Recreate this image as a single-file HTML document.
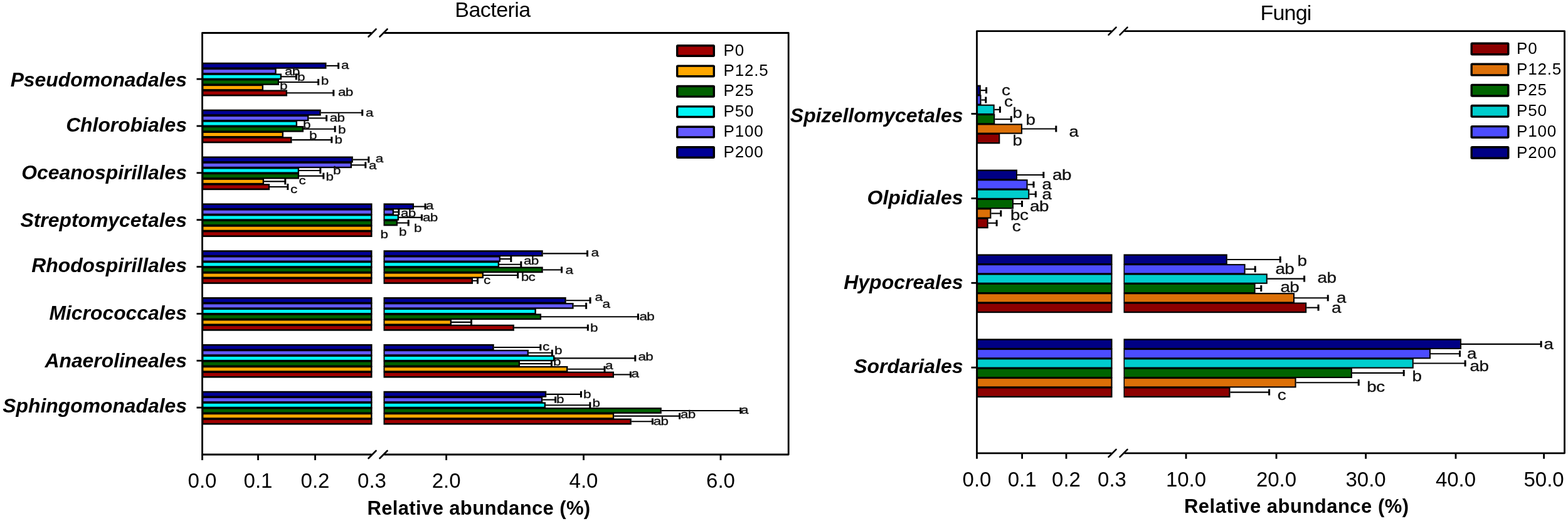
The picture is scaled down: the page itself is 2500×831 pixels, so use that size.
<!DOCTYPE html>
<html><head><meta charset="utf-8"><title>Relative abundance - Bacteria and Fungi</title>
<style>html,body{margin:0;padding:0;background:#fff;}svg{display:block;}text{font-family:'Liberation Sans', Arial, Helvetica, sans-serif;}</style></head><body>
<svg width="2500" height="831" viewBox="0 0 2500 831">
<rect x="0" y="0" width="2500" height="831" fill="#fff"/>
<text x="785.5" y="27" font-size="34" text-anchor="middle" letter-spacing="-0.55" fill="#000">Bacteria</text>
<text x="2050" y="32" font-size="34" text-anchor="middle" letter-spacing="-0.8" fill="#000">Fungi</text>
<rect x="322.5" y="99.76" width="198.00" height="9.98" fill="#000"/>
<rect x="324.4" y="102.41" width="193.75" height="4.98" fill="#000096"/>
<rect x="322.5" y="108.74" width="118.20" height="9.68" fill="#000"/>
<rect x="324.4" y="111.09" width="113.94" height="4.98" fill="#645AFF"/>
<rect x="322.5" y="117.42" width="126.50" height="9.68" fill="#000"/>
<rect x="324.4" y="119.77" width="122.25" height="4.98" fill="#00F5F5"/>
<rect x="322.5" y="126.10" width="122.50" height="9.68" fill="#000"/>
<rect x="324.4" y="128.45" width="118.25" height="4.98" fill="#006000"/>
<rect x="322.5" y="134.78" width="97.50" height="9.68" fill="#000"/>
<rect x="324.4" y="137.13" width="93.25" height="4.98" fill="#FFA800"/>
<rect x="322.5" y="143.46" width="135.50" height="9.98" fill="#000"/>
<rect x="324.4" y="145.81" width="131.25" height="4.98" fill="#A00000"/>
<line x1="520.5" y1="104.90" x2="540.8" y2="104.90" stroke="#000" stroke-width="2.1"/>
<line x1="539.6" y1="99.90" x2="539.6" y2="109.90" stroke="#000" stroke-width="3"/>
<line x1="449.0" y1="122.26" x2="473.5" y2="122.26" stroke="#000" stroke-width="2.1"/>
<line x1="472.3" y1="117.26" x2="472.3" y2="127.26" stroke="#000" stroke-width="3"/>
<line x1="445.0" y1="130.94" x2="508.8" y2="130.94" stroke="#000" stroke-width="2.1"/>
<line x1="507.6" y1="125.94" x2="507.6" y2="135.94" stroke="#000" stroke-width="3"/>
<line x1="458.0" y1="148.30" x2="533.0" y2="148.30" stroke="#000" stroke-width="2.1"/>
<line x1="531.8" y1="143.30" x2="531.8" y2="153.30" stroke="#000" stroke-width="3"/>
<text transform="translate(544.0,110.3) scale(1.18,1)" font-size="19" letter-spacing="-0.6" fill="#111" stroke="#111" stroke-width="0.35">a</text>
<text transform="translate(454.0,120.0) scale(1.18,1)" font-size="19" letter-spacing="-0.6" fill="#111" stroke="#111" stroke-width="0.35">ab</text>
<text transform="translate(474.0,129.4) scale(1.18,1)" font-size="19" letter-spacing="-0.6" fill="#111" stroke="#111" stroke-width="0.35">b</text>
<text transform="translate(511.7,135.0) scale(1.18,1)" font-size="19" letter-spacing="-0.6" fill="#111" stroke="#111" stroke-width="0.35">b</text>
<text transform="translate(446.0,142.7) scale(1.18,1)" font-size="19" letter-spacing="-0.6" fill="#111" stroke="#111" stroke-width="0.35">b</text>
<text transform="translate(539.0,152.9) scale(1.18,1)" font-size="19" letter-spacing="-0.6" fill="#111" stroke="#111" stroke-width="0.35">ab</text>
<line x1="313.5" y1="126.1" x2="322.5" y2="126.1" stroke="#000" stroke-width="2.8"/>
<rect x="322.5" y="174.62" width="189.20" height="9.98" fill="#000"/>
<rect x="324.4" y="177.27" width="184.94" height="4.98" fill="#000096"/>
<rect x="322.5" y="183.60" width="169.90" height="9.68" fill="#000"/>
<rect x="324.4" y="185.95" width="165.64" height="4.98" fill="#645AFF"/>
<rect x="322.5" y="192.28" width="151.50" height="9.68" fill="#000"/>
<rect x="324.4" y="194.63" width="147.25" height="4.98" fill="#00F5F5"/>
<rect x="322.5" y="200.96" width="161.50" height="9.68" fill="#000"/>
<rect x="324.4" y="203.31" width="157.25" height="4.98" fill="#006000"/>
<rect x="322.5" y="209.64" width="129.50" height="9.68" fill="#000"/>
<rect x="324.4" y="211.99" width="125.25" height="4.98" fill="#FFA800"/>
<rect x="322.5" y="218.32" width="143.00" height="9.98" fill="#000"/>
<rect x="324.4" y="220.67" width="138.75" height="4.98" fill="#A00000"/>
<line x1="511.7" y1="179.76" x2="578.9" y2="179.76" stroke="#000" stroke-width="2.1"/>
<line x1="577.7" y1="174.76" x2="577.7" y2="184.76" stroke="#000" stroke-width="3"/>
<line x1="492.4" y1="188.44" x2="521.8" y2="188.44" stroke="#000" stroke-width="2.1"/>
<line x1="520.6" y1="183.44" x2="520.6" y2="193.44" stroke="#000" stroke-width="3"/>
<line x1="484.0" y1="205.80" x2="535.3" y2="205.80" stroke="#000" stroke-width="2.1"/>
<line x1="534.1" y1="200.80" x2="534.1" y2="210.80" stroke="#000" stroke-width="3"/>
<line x1="465.5" y1="223.16" x2="530.0" y2="223.16" stroke="#000" stroke-width="2.1"/>
<line x1="528.8" y1="218.16" x2="528.8" y2="228.16" stroke="#000" stroke-width="3"/>
<text transform="translate(583.0,185.6) scale(1.18,1)" font-size="19" letter-spacing="-0.6" fill="#111" stroke="#111" stroke-width="0.35">a</text>
<text transform="translate(525.8,194.0) scale(1.18,1)" font-size="19" letter-spacing="-0.6" fill="#111" stroke="#111" stroke-width="0.35">ab</text>
<text transform="translate(483.0,205.0) scale(1.18,1)" font-size="19" letter-spacing="-0.6" fill="#111" stroke="#111" stroke-width="0.35">b</text>
<text transform="translate(539.0,212.5) scale(1.18,1)" font-size="19" letter-spacing="-0.6" fill="#111" stroke="#111" stroke-width="0.35">b</text>
<text transform="translate(493.0,221.8) scale(1.18,1)" font-size="19" letter-spacing="-0.6" fill="#111" stroke="#111" stroke-width="0.35">b</text>
<text transform="translate(533.4,228.5) scale(1.18,1)" font-size="19" letter-spacing="-0.6" fill="#111" stroke="#111" stroke-width="0.35">b</text>
<line x1="313.5" y1="201.0" x2="322.5" y2="201.0" stroke="#000" stroke-width="2.8"/>
<rect x="322.5" y="249.48" width="240.30" height="9.98" fill="#000"/>
<rect x="324.4" y="252.13" width="236.04" height="4.98" fill="#000096"/>
<rect x="322.5" y="258.46" width="238.50" height="9.68" fill="#000"/>
<rect x="324.4" y="260.81" width="234.25" height="4.98" fill="#645AFF"/>
<rect x="322.5" y="267.14" width="154.50" height="9.68" fill="#000"/>
<rect x="324.4" y="269.49" width="150.25" height="4.98" fill="#00F5F5"/>
<rect x="322.5" y="275.82" width="154.50" height="9.68" fill="#000"/>
<rect x="324.4" y="278.17" width="150.25" height="4.98" fill="#006000"/>
<rect x="322.5" y="284.50" width="98.50" height="9.68" fill="#000"/>
<rect x="324.4" y="286.85" width="94.25" height="4.98" fill="#FFA800"/>
<rect x="322.5" y="293.18" width="107.50" height="9.98" fill="#000"/>
<rect x="324.4" y="295.53" width="103.25" height="4.98" fill="#A00000"/>
<line x1="562.8" y1="254.62" x2="589.0" y2="254.62" stroke="#000" stroke-width="2.1"/>
<line x1="587.8" y1="249.62" x2="587.8" y2="259.62" stroke="#000" stroke-width="3"/>
<line x1="561.0" y1="263.30" x2="584.0" y2="263.30" stroke="#000" stroke-width="2.1"/>
<line x1="582.8" y1="258.30" x2="582.8" y2="268.30" stroke="#000" stroke-width="3"/>
<line x1="477.0" y1="271.98" x2="512.0" y2="271.98" stroke="#000" stroke-width="2.1"/>
<line x1="510.8" y1="266.98" x2="510.8" y2="276.98" stroke="#000" stroke-width="3"/>
<line x1="477.0" y1="280.66" x2="517.0" y2="280.66" stroke="#000" stroke-width="2.1"/>
<line x1="515.8" y1="275.66" x2="515.8" y2="285.66" stroke="#000" stroke-width="3"/>
<line x1="421.0" y1="289.34" x2="456.0" y2="289.34" stroke="#000" stroke-width="2.1"/>
<line x1="454.8" y1="284.34" x2="454.8" y2="294.34" stroke="#000" stroke-width="3"/>
<line x1="430.0" y1="298.02" x2="460.0" y2="298.02" stroke="#000" stroke-width="2.1"/>
<line x1="458.8" y1="293.02" x2="458.8" y2="303.02" stroke="#000" stroke-width="3"/>
<text transform="translate(598.8,258.5) scale(1.18,1)" font-size="19" letter-spacing="-0.6" fill="#111" stroke="#111" stroke-width="0.35">a</text>
<text transform="translate(588.0,270.0) scale(1.18,1)" font-size="19" letter-spacing="-0.6" fill="#111" stroke="#111" stroke-width="0.35">a</text>
<text transform="translate(531.0,278.0) scale(1.18,1)" font-size="19" letter-spacing="-0.6" fill="#111" stroke="#111" stroke-width="0.35">b</text>
<text transform="translate(519.6,288.4) scale(1.18,1)" font-size="19" letter-spacing="-0.6" fill="#111" stroke="#111" stroke-width="0.35">b</text>
<text transform="translate(476.5,293.7) scale(1.18,1)" font-size="19" letter-spacing="-0.6" fill="#111" stroke="#111" stroke-width="0.35">c</text>
<text transform="translate(463.0,307.8) scale(1.18,1)" font-size="19" letter-spacing="-0.6" fill="#111" stroke="#111" stroke-width="0.35">c</text>
<line x1="313.5" y1="275.8" x2="322.5" y2="275.8" stroke="#000" stroke-width="2.8"/>
<rect x="322.5" y="324.34" width="271.00" height="9.98" fill="#000"/>
<rect x="324.4" y="326.99" width="266.75" height="4.98" fill="#000096"/>
<rect x="611.5" y="324.34" width="48.50" height="9.98" fill="#000"/>
<rect x="613.4" y="326.99" width="44.24" height="4.98" fill="#000096"/>
<rect x="322.5" y="333.32" width="271.00" height="9.68" fill="#000"/>
<rect x="324.4" y="335.67" width="266.75" height="4.98" fill="#645AFF"/>
<rect x="611.5" y="333.32" width="16.50" height="9.68" fill="#000"/>
<rect x="613.4" y="335.67" width="12.25" height="4.98" fill="#645AFF"/>
<rect x="322.5" y="342.00" width="271.00" height="9.68" fill="#000"/>
<rect x="324.4" y="344.35" width="266.75" height="4.98" fill="#00F5F5"/>
<rect x="611.5" y="342.00" width="24.50" height="9.68" fill="#000"/>
<rect x="613.4" y="344.35" width="20.24" height="4.98" fill="#00F5F5"/>
<rect x="322.5" y="350.68" width="271.00" height="9.68" fill="#000"/>
<rect x="324.4" y="353.03" width="266.75" height="4.98" fill="#006000"/>
<rect x="611.5" y="350.68" width="22.50" height="9.68" fill="#000"/>
<rect x="613.4" y="353.03" width="18.24" height="4.98" fill="#006000"/>
<rect x="322.5" y="359.36" width="271.00" height="9.68" fill="#000"/>
<rect x="324.4" y="361.71" width="266.75" height="4.98" fill="#FFA800"/>
<rect x="322.5" y="368.04" width="271.00" height="9.98" fill="#000"/>
<rect x="324.4" y="370.39" width="266.75" height="4.98" fill="#A00000"/>
<line x1="660.0" y1="329.48" x2="679.3" y2="329.48" stroke="#000" stroke-width="2.1"/>
<line x1="678.1" y1="324.48" x2="678.1" y2="334.48" stroke="#000" stroke-width="3"/>
<line x1="628.0" y1="338.16" x2="637.0" y2="338.16" stroke="#000" stroke-width="2.1"/>
<line x1="635.8" y1="333.16" x2="635.8" y2="343.16" stroke="#000" stroke-width="3"/>
<line x1="636.0" y1="346.84" x2="673.6" y2="346.84" stroke="#000" stroke-width="2.1"/>
<line x1="672.4" y1="341.84" x2="672.4" y2="351.84" stroke="#000" stroke-width="3"/>
<line x1="634.0" y1="355.52" x2="652.4" y2="355.52" stroke="#000" stroke-width="2.1"/>
<line x1="651.2" y1="350.52" x2="651.2" y2="360.52" stroke="#000" stroke-width="3"/>
<text transform="translate(679.0,334.0) scale(1.18,1)" font-size="19" letter-spacing="-0.6" fill="#111" stroke="#111" stroke-width="0.35">a</text>
<text transform="translate(639.0,345.6) scale(1.18,1)" font-size="19" letter-spacing="-0.6" fill="#111" stroke="#111" stroke-width="0.35">ab</text>
<text transform="translate(674.0,353.3) scale(1.18,1)" font-size="19" letter-spacing="-0.6" fill="#111" stroke="#111" stroke-width="0.35">ab</text>
<text transform="translate(636.0,375.5) scale(1.18,1)" font-size="19" letter-spacing="-0.6" fill="#111" stroke="#111" stroke-width="0.35">b</text>
<text transform="translate(660.0,369.7) scale(1.18,1)" font-size="19" letter-spacing="-0.6" fill="#111" stroke="#111" stroke-width="0.35">b</text>
<text transform="translate(606.6,380.0) scale(1.18,1)" font-size="19" letter-spacing="-0.6" fill="#111" stroke="#111" stroke-width="0.35">b</text>
<line x1="313.5" y1="350.7" x2="322.5" y2="350.7" stroke="#000" stroke-width="2.8"/>
<rect x="322.5" y="399.20" width="271.00" height="9.98" fill="#000"/>
<rect x="324.4" y="401.85" width="266.75" height="4.98" fill="#000096"/>
<rect x="611.5" y="399.20" width="254.20" height="9.98" fill="#000"/>
<rect x="613.4" y="401.85" width="249.95" height="4.98" fill="#000096"/>
<rect x="322.5" y="408.18" width="271.00" height="9.68" fill="#000"/>
<rect x="324.4" y="410.53" width="266.75" height="4.98" fill="#645AFF"/>
<rect x="611.5" y="408.18" width="186.50" height="9.68" fill="#000"/>
<rect x="613.4" y="410.53" width="182.25" height="4.98" fill="#645AFF"/>
<rect x="322.5" y="416.86" width="271.00" height="9.68" fill="#000"/>
<rect x="324.4" y="419.21" width="266.75" height="4.98" fill="#00F5F5"/>
<rect x="611.5" y="416.86" width="184.50" height="9.68" fill="#000"/>
<rect x="613.4" y="419.21" width="180.25" height="4.98" fill="#00F5F5"/>
<rect x="322.5" y="425.54" width="271.00" height="9.68" fill="#000"/>
<rect x="324.4" y="427.89" width="266.75" height="4.98" fill="#006000"/>
<rect x="611.5" y="425.54" width="254.20" height="9.68" fill="#000"/>
<rect x="613.4" y="427.89" width="249.95" height="4.98" fill="#006000"/>
<rect x="322.5" y="434.22" width="271.00" height="9.68" fill="#000"/>
<rect x="324.4" y="436.57" width="266.75" height="4.98" fill="#FFA800"/>
<rect x="611.5" y="434.22" width="159.50" height="9.68" fill="#000"/>
<rect x="613.4" y="436.57" width="155.25" height="4.98" fill="#FFA800"/>
<rect x="322.5" y="442.90" width="271.00" height="9.98" fill="#000"/>
<rect x="324.4" y="445.25" width="266.75" height="4.98" fill="#A00000"/>
<rect x="611.5" y="442.90" width="142.50" height="9.98" fill="#000"/>
<rect x="613.4" y="445.25" width="138.25" height="4.98" fill="#A00000"/>
<line x1="865.7" y1="404.34" x2="937.7" y2="404.34" stroke="#000" stroke-width="2.1"/>
<line x1="936.5" y1="399.34" x2="936.5" y2="409.34" stroke="#000" stroke-width="3"/>
<line x1="798.0" y1="413.02" x2="816.0" y2="413.02" stroke="#000" stroke-width="2.1"/>
<line x1="814.8" y1="408.02" x2="814.8" y2="418.02" stroke="#000" stroke-width="3"/>
<line x1="796.0" y1="421.70" x2="832.0" y2="421.70" stroke="#000" stroke-width="2.1"/>
<line x1="830.8" y1="416.70" x2="830.8" y2="426.70" stroke="#000" stroke-width="3"/>
<line x1="865.7" y1="430.38" x2="896.7" y2="430.38" stroke="#000" stroke-width="2.1"/>
<line x1="895.5" y1="425.38" x2="895.5" y2="435.38" stroke="#000" stroke-width="3"/>
<line x1="771.0" y1="439.06" x2="826.8" y2="439.06" stroke="#000" stroke-width="2.1"/>
<line x1="825.6" y1="434.06" x2="825.6" y2="444.06" stroke="#000" stroke-width="3"/>
<line x1="754.0" y1="447.74" x2="762.7" y2="447.74" stroke="#000" stroke-width="2.1"/>
<line x1="761.5" y1="442.74" x2="761.5" y2="452.74" stroke="#000" stroke-width="3"/>
<text transform="translate(942.5,409.4) scale(1.18,1)" font-size="19" letter-spacing="-0.6" fill="#111" stroke="#111" stroke-width="0.35">a</text>
<text transform="translate(835.0,421.7) scale(1.18,1)" font-size="19" letter-spacing="-0.6" fill="#111" stroke="#111" stroke-width="0.35">ab</text>
<text transform="translate(901.4,436.8) scale(1.18,1)" font-size="19" letter-spacing="-0.6" fill="#111" stroke="#111" stroke-width="0.35">a</text>
<text transform="translate(830.8,447.6) scale(1.18,1)" font-size="19" letter-spacing="-0.6" fill="#111" stroke="#111" stroke-width="0.35">bc</text>
<text transform="translate(771.0,453.4) scale(1.18,1)" font-size="19" letter-spacing="-0.6" fill="#111" stroke="#111" stroke-width="0.35">c</text>
<line x1="313.5" y1="425.5" x2="322.5" y2="425.5" stroke="#000" stroke-width="2.8"/>
<rect x="322.5" y="474.06" width="271.00" height="9.98" fill="#000"/>
<rect x="324.4" y="476.71" width="266.75" height="4.98" fill="#000096"/>
<rect x="611.5" y="474.06" width="291.20" height="9.98" fill="#000"/>
<rect x="613.4" y="476.71" width="286.95" height="4.98" fill="#000096"/>
<rect x="322.5" y="483.04" width="271.00" height="9.68" fill="#000"/>
<rect x="324.4" y="485.39" width="266.75" height="4.98" fill="#645AFF"/>
<rect x="611.5" y="483.04" width="303.10" height="9.68" fill="#000"/>
<rect x="613.4" y="485.39" width="298.85" height="4.98" fill="#645AFF"/>
<rect x="322.5" y="491.72" width="271.00" height="9.68" fill="#000"/>
<rect x="324.4" y="494.07" width="266.75" height="4.98" fill="#00F5F5"/>
<rect x="611.5" y="491.72" width="243.30" height="9.68" fill="#000"/>
<rect x="613.4" y="494.07" width="239.04" height="4.98" fill="#00F5F5"/>
<rect x="322.5" y="500.40" width="271.00" height="9.68" fill="#000"/>
<rect x="324.4" y="502.75" width="266.75" height="4.98" fill="#006000"/>
<rect x="611.5" y="500.40" width="251.50" height="9.68" fill="#000"/>
<rect x="613.4" y="502.75" width="247.25" height="4.98" fill="#006000"/>
<rect x="322.5" y="509.08" width="271.00" height="9.68" fill="#000"/>
<rect x="324.4" y="511.43" width="266.75" height="4.98" fill="#FFA800"/>
<rect x="611.5" y="509.08" width="108.50" height="9.68" fill="#000"/>
<rect x="613.4" y="511.43" width="104.25" height="4.98" fill="#FFA800"/>
<rect x="322.5" y="517.76" width="271.00" height="9.98" fill="#000"/>
<rect x="324.4" y="520.11" width="266.75" height="4.98" fill="#A00000"/>
<rect x="611.5" y="517.76" width="208.40" height="9.98" fill="#000"/>
<rect x="613.4" y="520.11" width="204.14" height="4.98" fill="#A00000"/>
<line x1="902.7" y1="479.20" x2="942.2" y2="479.20" stroke="#000" stroke-width="2.1"/>
<line x1="941.0" y1="474.20" x2="941.0" y2="484.20" stroke="#000" stroke-width="3"/>
<line x1="914.6" y1="487.88" x2="935.8" y2="487.88" stroke="#000" stroke-width="2.1"/>
<line x1="934.6" y1="482.88" x2="934.6" y2="492.88" stroke="#000" stroke-width="3"/>
<line x1="863.0" y1="505.24" x2="1018.6" y2="505.24" stroke="#000" stroke-width="2.1"/>
<line x1="1017.4" y1="500.24" x2="1017.4" y2="510.24" stroke="#000" stroke-width="3"/>
<line x1="720.0" y1="513.92" x2="752.7" y2="513.92" stroke="#000" stroke-width="2.1"/>
<line x1="751.5" y1="508.92" x2="751.5" y2="518.92" stroke="#000" stroke-width="3"/>
<line x1="819.9" y1="522.60" x2="938.5" y2="522.60" stroke="#000" stroke-width="2.1"/>
<line x1="937.3" y1="517.60" x2="937.3" y2="527.60" stroke="#000" stroke-width="3"/>
<text transform="translate(948.6,480.4) scale(1.18,1)" font-size="19" letter-spacing="-0.6" fill="#111" stroke="#111" stroke-width="0.35">a</text>
<text transform="translate(960.5,491.4) scale(1.18,1)" font-size="19" letter-spacing="-0.6" fill="#111" stroke="#111" stroke-width="0.35">a</text>
<text transform="translate(1019.4,510.8) scale(1.18,1)" font-size="19" letter-spacing="-0.6" fill="#111" stroke="#111" stroke-width="0.35">ab</text>
<text transform="translate(941.0,529.0) scale(1.18,1)" font-size="19" letter-spacing="-0.6" fill="#111" stroke="#111" stroke-width="0.35">b</text>
<line x1="313.5" y1="500.4" x2="322.5" y2="500.4" stroke="#000" stroke-width="2.8"/>
<rect x="322.5" y="548.92" width="271.00" height="9.98" fill="#000"/>
<rect x="324.4" y="551.57" width="266.75" height="4.98" fill="#000096"/>
<rect x="611.5" y="548.92" width="176.20" height="9.98" fill="#000"/>
<rect x="613.4" y="551.57" width="171.95" height="4.98" fill="#000096"/>
<rect x="322.5" y="557.90" width="271.00" height="9.68" fill="#000"/>
<rect x="324.4" y="560.25" width="266.75" height="4.98" fill="#645AFF"/>
<rect x="611.5" y="557.90" width="231.40" height="9.68" fill="#000"/>
<rect x="613.4" y="560.25" width="227.14" height="4.98" fill="#645AFF"/>
<rect x="322.5" y="566.58" width="271.00" height="9.68" fill="#000"/>
<rect x="324.4" y="568.93" width="266.75" height="4.98" fill="#00F5F5"/>
<rect x="611.5" y="566.58" width="272.80" height="9.68" fill="#000"/>
<rect x="613.4" y="568.93" width="268.54" height="4.98" fill="#00F5F5"/>
<rect x="322.5" y="575.26" width="271.00" height="9.68" fill="#000"/>
<rect x="324.4" y="577.61" width="266.75" height="4.98" fill="#006000"/>
<rect x="611.5" y="575.26" width="217.50" height="9.68" fill="#000"/>
<rect x="613.4" y="577.61" width="213.25" height="4.98" fill="#006000"/>
<rect x="322.5" y="583.94" width="271.00" height="9.68" fill="#000"/>
<rect x="324.4" y="586.29" width="266.75" height="4.98" fill="#FFA800"/>
<rect x="611.5" y="583.94" width="293.90" height="9.68" fill="#000"/>
<rect x="613.4" y="586.29" width="289.64" height="4.98" fill="#FFA800"/>
<rect x="322.5" y="592.62" width="271.00" height="9.98" fill="#000"/>
<rect x="324.4" y="594.97" width="266.75" height="4.98" fill="#A00000"/>
<rect x="611.5" y="592.62" width="367.50" height="9.98" fill="#000"/>
<rect x="613.4" y="594.97" width="363.25" height="4.98" fill="#A00000"/>
<line x1="787.7" y1="554.06" x2="863.0" y2="554.06" stroke="#000" stroke-width="2.1"/>
<line x1="861.8" y1="549.06" x2="861.8" y2="559.06" stroke="#000" stroke-width="3"/>
<line x1="842.9" y1="562.74" x2="881.5" y2="562.74" stroke="#000" stroke-width="2.1"/>
<line x1="880.3" y1="557.74" x2="880.3" y2="567.74" stroke="#000" stroke-width="3"/>
<line x1="884.3" y1="571.42" x2="1014.0" y2="571.42" stroke="#000" stroke-width="2.1"/>
<line x1="1012.8" y1="566.42" x2="1012.8" y2="576.42" stroke="#000" stroke-width="3"/>
<line x1="829.0" y1="580.10" x2="880.6" y2="580.10" stroke="#000" stroke-width="2.1"/>
<line x1="879.4" y1="575.10" x2="879.4" y2="585.10" stroke="#000" stroke-width="3"/>
<line x1="905.4" y1="588.78" x2="965.2" y2="588.78" stroke="#000" stroke-width="2.1"/>
<line x1="964.0" y1="583.78" x2="964.0" y2="593.78" stroke="#000" stroke-width="3"/>
<line x1="979.0" y1="597.46" x2="1006.6" y2="597.46" stroke="#000" stroke-width="2.1"/>
<line x1="1005.4" y1="592.46" x2="1005.4" y2="602.46" stroke="#000" stroke-width="3"/>
<text transform="translate(865.0,559.0) scale(1.18,1)" font-size="19" letter-spacing="-0.6" fill="#111" stroke="#111" stroke-width="0.35">c</text>
<text transform="translate(884.0,564.7) scale(1.18,1)" font-size="19" letter-spacing="-0.6" fill="#111" stroke="#111" stroke-width="0.35">b</text>
<text transform="translate(1017.6,574.8) scale(1.18,1)" font-size="19" letter-spacing="-0.6" fill="#111" stroke="#111" stroke-width="0.35">ab</text>
<text transform="translate(882.0,583.0) scale(1.18,1)" font-size="19" letter-spacing="-0.6" fill="#111" stroke="#111" stroke-width="0.35">b</text>
<text transform="translate(965.0,588.6) scale(1.18,1)" font-size="19" letter-spacing="-0.6" fill="#111" stroke="#111" stroke-width="0.35">a</text>
<text transform="translate(1006.5,601.5) scale(1.18,1)" font-size="19" letter-spacing="-0.6" fill="#111" stroke="#111" stroke-width="0.35">a</text>
<line x1="313.5" y1="575.3" x2="322.5" y2="575.3" stroke="#000" stroke-width="2.8"/>
<rect x="322.5" y="623.78" width="271.00" height="9.98" fill="#000"/>
<rect x="324.4" y="626.43" width="266.75" height="4.98" fill="#000096"/>
<rect x="611.5" y="623.78" width="259.70" height="9.98" fill="#000"/>
<rect x="613.4" y="626.43" width="255.45" height="4.98" fill="#000096"/>
<rect x="322.5" y="632.76" width="271.00" height="9.68" fill="#000"/>
<rect x="324.4" y="635.11" width="266.75" height="4.98" fill="#645AFF"/>
<rect x="611.5" y="632.76" width="253.70" height="9.68" fill="#000"/>
<rect x="613.4" y="635.11" width="249.45" height="4.98" fill="#645AFF"/>
<rect x="322.5" y="641.44" width="271.00" height="9.68" fill="#000"/>
<rect x="324.4" y="643.79" width="266.75" height="4.98" fill="#00F5F5"/>
<rect x="611.5" y="641.44" width="258.50" height="9.68" fill="#000"/>
<rect x="613.4" y="643.79" width="254.24" height="4.98" fill="#00F5F5"/>
<rect x="322.5" y="650.12" width="271.00" height="9.68" fill="#000"/>
<rect x="324.4" y="652.47" width="266.75" height="4.98" fill="#006000"/>
<rect x="611.5" y="650.12" width="443.30" height="9.68" fill="#000"/>
<rect x="613.4" y="652.47" width="439.04" height="4.98" fill="#006000"/>
<rect x="322.5" y="658.80" width="271.00" height="9.68" fill="#000"/>
<rect x="324.4" y="661.15" width="266.75" height="4.98" fill="#FFA800"/>
<rect x="611.5" y="658.80" width="367.70" height="9.68" fill="#000"/>
<rect x="613.4" y="661.15" width="363.45" height="4.98" fill="#FFA800"/>
<rect x="322.5" y="667.48" width="271.00" height="9.98" fill="#000"/>
<rect x="324.4" y="669.83" width="266.75" height="4.98" fill="#A00000"/>
<rect x="611.5" y="667.48" width="395.30" height="9.98" fill="#000"/>
<rect x="613.4" y="669.83" width="391.04" height="4.98" fill="#A00000"/>
<line x1="871.2" y1="628.92" x2="927.6" y2="628.92" stroke="#000" stroke-width="2.1"/>
<line x1="926.4" y1="623.92" x2="926.4" y2="633.92" stroke="#000" stroke-width="3"/>
<line x1="865.2" y1="637.60" x2="886.8" y2="637.60" stroke="#000" stroke-width="2.1"/>
<line x1="885.6" y1="632.60" x2="885.6" y2="642.60" stroke="#000" stroke-width="3"/>
<line x1="870.0" y1="646.28" x2="942.0" y2="646.28" stroke="#000" stroke-width="2.1"/>
<line x1="940.8" y1="641.28" x2="940.8" y2="651.28" stroke="#000" stroke-width="3"/>
<line x1="1054.8" y1="654.96" x2="1182.0" y2="654.96" stroke="#000" stroke-width="2.1"/>
<line x1="1180.8" y1="649.96" x2="1180.8" y2="659.96" stroke="#000" stroke-width="3"/>
<line x1="979.2" y1="663.64" x2="1084.8" y2="663.64" stroke="#000" stroke-width="2.1"/>
<line x1="1083.6" y1="658.64" x2="1083.6" y2="668.64" stroke="#000" stroke-width="3"/>
<line x1="1006.8" y1="672.32" x2="1041.6" y2="672.32" stroke="#000" stroke-width="2.1"/>
<line x1="1040.4" y1="667.32" x2="1040.4" y2="677.32" stroke="#000" stroke-width="3"/>
<text transform="translate(930.0,634.8) scale(1.18,1)" font-size="19" letter-spacing="-0.6" fill="#111" stroke="#111" stroke-width="0.35">b</text>
<text transform="translate(887.0,643.0) scale(1.18,1)" font-size="19" letter-spacing="-0.6" fill="#111" stroke="#111" stroke-width="0.35">b</text>
<text transform="translate(944.6,649.0) scale(1.18,1)" font-size="19" letter-spacing="-0.6" fill="#111" stroke="#111" stroke-width="0.35">b</text>
<text transform="translate(1181.0,660.0) scale(1.18,1)" font-size="19" letter-spacing="-0.6" fill="#111" stroke="#111" stroke-width="0.35">a</text>
<text transform="translate(1085.0,667.0) scale(1.18,1)" font-size="19" letter-spacing="-0.6" fill="#111" stroke="#111" stroke-width="0.35">ab</text>
<text transform="translate(1041.8,678.0) scale(1.18,1)" font-size="19" letter-spacing="-0.6" fill="#111" stroke="#111" stroke-width="0.35">ab</text>
<line x1="313.5" y1="650.1" x2="322.5" y2="650.1" stroke="#000" stroke-width="2.8"/>
<path d="M592.5,52.5 L322.5,52.5 L322.5,725.0 L592.5,725.0" stroke="#000" stroke-width="2.8" fill="none" stroke-linecap="butt" stroke-linejoin="round"/>
<path d="M612.5,52.5 L1257.2,52.5 L1257.2,725.0 L612.5,725.0" stroke="#000" stroke-width="2.8" fill="none" stroke-linecap="butt" stroke-linejoin="round"/>
<line x1="587.5" y1="58.5" x2="599.5" y2="46.5" stroke="#000" stroke-width="2.6" stroke-linecap="round"/>
<line x1="605.5" y1="58.5" x2="617.5" y2="46.5" stroke="#000" stroke-width="2.6" stroke-linecap="round"/>
<line x1="587.5" y1="731.0" x2="599.5" y2="719.0" stroke="#000" stroke-width="2.6" stroke-linecap="round"/>
<line x1="605.5" y1="731.0" x2="617.5" y2="719.0" stroke="#000" stroke-width="2.6" stroke-linecap="round"/>
<line x1="322.5" y1="725.0" x2="322.5" y2="734.0" stroke="#000" stroke-width="2.8"/>
<line x1="411.5" y1="725.0" x2="411.5" y2="734.0" stroke="#000" stroke-width="2.8"/>
<line x1="502.5" y1="725.0" x2="502.5" y2="734.0" stroke="#000" stroke-width="2.8"/>
<line x1="711.6" y1="725.0" x2="711.6" y2="734.0" stroke="#000" stroke-width="2.8"/>
<line x1="930.5" y1="725.0" x2="930.5" y2="734.0" stroke="#000" stroke-width="2.8"/>
<line x1="1149" y1="725.0" x2="1149" y2="734.0" stroke="#000" stroke-width="2.8"/>
<text x="322.5" y="778" font-size="33" text-anchor="middle" fill="#000">0.0</text>
<text x="411.5" y="778" font-size="33" text-anchor="middle" fill="#000">0.1</text>
<text x="502.5" y="778" font-size="33" text-anchor="middle" fill="#000">0.2</text>
<text x="593" y="778" font-size="33" text-anchor="middle" fill="#000">0.3</text>
<text x="711.6" y="778" font-size="33" text-anchor="middle" fill="#000">2.0</text>
<text x="930.5" y="778" font-size="33" text-anchor="middle" fill="#000">4.0</text>
<text x="1149" y="778" font-size="33" text-anchor="middle" fill="#000">6.0</text>
<text x="585.4" y="820.5" font-size="31" font-weight="bold" letter-spacing="0.37" fill="#000">Relative abundance (%)</text>
<text x="298" y="137.6" font-size="31.85" font-weight="bold" font-style="italic" text-anchor="end" fill="#000">Pseudomonadales</text>
<text x="298" y="210.3" font-size="31.85" font-weight="bold" font-style="italic" text-anchor="end" fill="#000">Chlorobiales</text>
<text x="298" y="286.1" font-size="31.85" font-weight="bold" font-style="italic" text-anchor="end" fill="#000">Oceanospirillales</text>
<text x="298" y="361.9" font-size="31.85" font-weight="bold" font-style="italic" text-anchor="end" fill="#000">Streptomycetales</text>
<text x="298" y="434.0" font-size="31.85" font-weight="bold" font-style="italic" text-anchor="end" fill="#000">Rhodospirillales</text>
<text x="298" y="509.7" font-size="31.85" font-weight="bold" font-style="italic" text-anchor="end" fill="#000">Micrococcales</text>
<text x="298" y="585.5" font-size="31.85" font-weight="bold" font-style="italic" text-anchor="end" fill="#000">Anaerolineales</text>
<text x="298" y="657.7" font-size="31.85" font-weight="bold" font-style="italic" text-anchor="end" fill="#000">Sphingomonadales</text>
<rect x="1079.7" y="72.7" width="58.6" height="16.6" fill="#A00000" stroke="#000" stroke-width="3.4" rx="1"/>
<text x="1153.6" y="88.5" font-size="26" letter-spacing="0.8" fill="#000">P0</text>
<rect x="1079.7" y="105.1" width="58.6" height="16.6" fill="#FFA800" stroke="#000" stroke-width="3.4" rx="1"/>
<text x="1153.6" y="120.9" font-size="26" letter-spacing="0.8" fill="#000">P12.5</text>
<rect x="1079.7" y="137.5" width="58.6" height="16.6" fill="#006000" stroke="#000" stroke-width="3.4" rx="1"/>
<text x="1153.6" y="153.3" font-size="26" letter-spacing="0.8" fill="#000">P25</text>
<rect x="1079.7" y="169.9" width="58.6" height="16.6" fill="#00F5F5" stroke="#000" stroke-width="3.4" rx="1"/>
<text x="1153.6" y="185.7" font-size="26" letter-spacing="0.8" fill="#000">P50</text>
<rect x="1079.7" y="202.3" width="58.6" height="16.6" fill="#645AFF" stroke="#000" stroke-width="3.4" rx="1"/>
<text x="1153.6" y="218.1" font-size="26" letter-spacing="0.8" fill="#000">P100</text>
<rect x="1079.7" y="234.7" width="58.6" height="16.6" fill="#000096" stroke="#000" stroke-width="3.4" rx="1"/>
<text x="1153.6" y="250.5" font-size="26" letter-spacing="0.8" fill="#000">P200</text>
<rect x="1557.5" y="135.65" width="6.30" height="16.65" fill="#000"/>
<rect x="1559.1" y="138.05" width="2.62" height="12.15" fill="#000084"/>
<rect x="1557.5" y="151.30" width="7.00" height="16.35" fill="#000"/>
<rect x="1559.1" y="153.40" width="3.32" height="12.15" fill="#4C4CFF"/>
<rect x="1557.5" y="166.65" width="28.20" height="16.35" fill="#000"/>
<rect x="1559.1" y="168.75" width="24.52" height="12.15" fill="#00CDCD"/>
<rect x="1557.5" y="182.00" width="28.80" height="16.35" fill="#000"/>
<rect x="1559.1" y="184.10" width="25.12" height="12.15" fill="#006400"/>
<rect x="1557.5" y="197.35" width="72.50" height="16.35" fill="#000"/>
<rect x="1559.1" y="199.45" width="68.82" height="12.15" fill="#DC7008"/>
<rect x="1557.5" y="212.70" width="36.80" height="16.65" fill="#000"/>
<rect x="1559.1" y="214.80" width="33.12" height="12.15" fill="#8C0000"/>
<line x1="1563.8" y1="144.12" x2="1573.8" y2="144.12" stroke="#000" stroke-width="2.1"/>
<line x1="1572.6" y1="139.12" x2="1572.6" y2="149.12" stroke="#000" stroke-width="3"/>
<line x1="1564.5" y1="159.47" x2="1573.0" y2="159.47" stroke="#000" stroke-width="2.1"/>
<line x1="1571.8" y1="154.47" x2="1571.8" y2="164.47" stroke="#000" stroke-width="3"/>
<line x1="1585.7" y1="174.82" x2="1595.6" y2="174.82" stroke="#000" stroke-width="2.1"/>
<line x1="1594.4" y1="169.82" x2="1594.4" y2="179.82" stroke="#000" stroke-width="3"/>
<line x1="1586.3" y1="190.17" x2="1613.5" y2="190.17" stroke="#000" stroke-width="2.1"/>
<line x1="1612.3" y1="185.17" x2="1612.3" y2="195.17" stroke="#000" stroke-width="3"/>
<line x1="1630.0" y1="205.52" x2="1685.0" y2="205.52" stroke="#000" stroke-width="2.1"/>
<line x1="1683.8" y1="200.52" x2="1683.8" y2="210.52" stroke="#000" stroke-width="3"/>
<text transform="translate(1597.0,152.0) scale(1.13,1)" font-size="24.5" letter-spacing="-0.4" fill="#111" stroke="#111" stroke-width="0.35">c</text>
<text transform="translate(1601.0,169.7) scale(1.13,1)" font-size="24.5" letter-spacing="-0.4" fill="#111" stroke="#111" stroke-width="0.35">c</text>
<text transform="translate(1614.4,188.0) scale(1.13,1)" font-size="24.5" letter-spacing="-0.4" fill="#111" stroke="#111" stroke-width="0.35">b</text>
<text transform="translate(1635.6,198.8) scale(1.13,1)" font-size="24.5" letter-spacing="-0.4" fill="#111" stroke="#111" stroke-width="0.35">b</text>
<text transform="translate(1704.5,218.0) scale(1.13,1)" font-size="24.5" letter-spacing="-0.4" fill="#111" stroke="#111" stroke-width="0.35">a</text>
<text transform="translate(1614.4,232.0) scale(1.13,1)" font-size="24.5" letter-spacing="-0.4" fill="#111" stroke="#111" stroke-width="0.35">b</text>
<line x1="1548.5" y1="181.5" x2="1557.5" y2="181.5" stroke="#000" stroke-width="2.8"/>
<rect x="1557.5" y="270.55" width="64.50" height="16.65" fill="#000"/>
<rect x="1559.1" y="272.95" width="60.82" height="12.15" fill="#000084"/>
<rect x="1557.5" y="286.20" width="81.10" height="16.35" fill="#000"/>
<rect x="1559.1" y="288.30" width="77.42" height="12.15" fill="#4C4CFF"/>
<rect x="1557.5" y="301.55" width="83.80" height="16.35" fill="#000"/>
<rect x="1559.1" y="303.65" width="80.12" height="12.15" fill="#00CDCD"/>
<rect x="1557.5" y="316.90" width="58.50" height="16.35" fill="#000"/>
<rect x="1559.1" y="319.00" width="54.82" height="12.15" fill="#006400"/>
<rect x="1557.5" y="332.25" width="22.90" height="16.35" fill="#000"/>
<rect x="1559.1" y="334.35" width="19.22" height="12.15" fill="#DC7008"/>
<rect x="1557.5" y="347.60" width="18.20" height="16.65" fill="#000"/>
<rect x="1559.1" y="349.70" width="14.52" height="12.15" fill="#8C0000"/>
<line x1="1622.0" y1="279.02" x2="1665.0" y2="279.02" stroke="#000" stroke-width="2.1"/>
<line x1="1663.8" y1="274.02" x2="1663.8" y2="284.02" stroke="#000" stroke-width="3"/>
<line x1="1638.6" y1="294.37" x2="1649.2" y2="294.37" stroke="#000" stroke-width="2.1"/>
<line x1="1648.0" y1="289.37" x2="1648.0" y2="299.37" stroke="#000" stroke-width="3"/>
<line x1="1641.3" y1="309.72" x2="1652.5" y2="309.72" stroke="#000" stroke-width="2.1"/>
<line x1="1651.3" y1="304.72" x2="1651.3" y2="314.72" stroke="#000" stroke-width="3"/>
<line x1="1616.0" y1="325.07" x2="1630.7" y2="325.07" stroke="#000" stroke-width="2.1"/>
<line x1="1629.5" y1="320.07" x2="1629.5" y2="330.07" stroke="#000" stroke-width="3"/>
<line x1="1580.4" y1="340.42" x2="1597.0" y2="340.42" stroke="#000" stroke-width="2.1"/>
<line x1="1595.8" y1="335.42" x2="1595.8" y2="345.42" stroke="#000" stroke-width="3"/>
<line x1="1575.7" y1="355.77" x2="1590.3" y2="355.77" stroke="#000" stroke-width="2.1"/>
<line x1="1589.1" y1="350.77" x2="1589.1" y2="360.77" stroke="#000" stroke-width="3"/>
<text transform="translate(1678.0,286.5) scale(1.13,1)" font-size="24.5" letter-spacing="-0.4" fill="#111" stroke="#111" stroke-width="0.35">ab</text>
<text transform="translate(1661.4,301.7) scale(1.13,1)" font-size="24.5" letter-spacing="-0.4" fill="#111" stroke="#111" stroke-width="0.35">a</text>
<text transform="translate(1661.4,318.0) scale(1.13,1)" font-size="24.5" letter-spacing="-0.4" fill="#111" stroke="#111" stroke-width="0.35">a</text>
<text transform="translate(1642.0,337.4) scale(1.13,1)" font-size="24.5" letter-spacing="-0.4" fill="#111" stroke="#111" stroke-width="0.35">ab</text>
<text transform="translate(1611.0,350.7) scale(1.13,1)" font-size="24.5" letter-spacing="-0.4" fill="#111" stroke="#111" stroke-width="0.35">bc</text>
<text transform="translate(1613.8,369.2) scale(1.13,1)" font-size="24.5" letter-spacing="-0.4" fill="#111" stroke="#111" stroke-width="0.35">c</text>
<line x1="1548.5" y1="316.4" x2="1557.5" y2="316.4" stroke="#000" stroke-width="2.8"/>
<rect x="1557.5" y="405.45" width="216.00" height="16.65" fill="#000"/>
<rect x="1559.1" y="407.85" width="212.32" height="12.15" fill="#000084"/>
<rect x="1791.5" y="405.45" width="165.30" height="16.65" fill="#000"/>
<rect x="1793.1" y="407.85" width="161.62" height="12.15" fill="#000084"/>
<rect x="1557.5" y="421.10" width="216.00" height="16.35" fill="#000"/>
<rect x="1559.1" y="423.20" width="212.32" height="12.15" fill="#4C4CFF"/>
<rect x="1791.5" y="421.10" width="194.10" height="16.35" fill="#000"/>
<rect x="1793.1" y="423.20" width="190.42" height="12.15" fill="#4C4CFF"/>
<rect x="1557.5" y="436.45" width="216.00" height="16.35" fill="#000"/>
<rect x="1559.1" y="438.55" width="212.32" height="12.15" fill="#00CDCD"/>
<rect x="1791.5" y="436.45" width="229.30" height="16.35" fill="#000"/>
<rect x="1793.1" y="438.55" width="225.62" height="12.15" fill="#00CDCD"/>
<rect x="1557.5" y="451.80" width="216.00" height="16.35" fill="#000"/>
<rect x="1559.1" y="453.90" width="212.32" height="12.15" fill="#006400"/>
<rect x="1791.5" y="451.80" width="210.10" height="16.35" fill="#000"/>
<rect x="1793.1" y="453.90" width="206.42" height="12.15" fill="#006400"/>
<rect x="1557.5" y="467.15" width="216.00" height="16.35" fill="#000"/>
<rect x="1559.1" y="469.25" width="212.32" height="12.15" fill="#DC7008"/>
<rect x="1791.5" y="467.15" width="272.50" height="16.35" fill="#000"/>
<rect x="1793.1" y="469.25" width="268.82" height="12.15" fill="#DC7008"/>
<rect x="1557.5" y="482.50" width="216.00" height="16.65" fill="#000"/>
<rect x="1559.1" y="484.60" width="212.32" height="12.15" fill="#8C0000"/>
<rect x="1791.5" y="482.50" width="291.70" height="16.65" fill="#000"/>
<rect x="1793.1" y="484.60" width="288.02" height="12.15" fill="#8C0000"/>
<line x1="1956.8" y1="413.93" x2="2042.4" y2="413.93" stroke="#000" stroke-width="2.1"/>
<line x1="2041.2" y1="408.93" x2="2041.2" y2="418.93" stroke="#000" stroke-width="3"/>
<line x1="1985.6" y1="429.27" x2="2002.4" y2="429.27" stroke="#000" stroke-width="2.1"/>
<line x1="2001.2" y1="424.27" x2="2001.2" y2="434.27" stroke="#000" stroke-width="3"/>
<line x1="2020.8" y1="444.62" x2="2080.8" y2="444.62" stroke="#000" stroke-width="2.1"/>
<line x1="2079.6" y1="439.62" x2="2079.6" y2="449.62" stroke="#000" stroke-width="3"/>
<line x1="2001.6" y1="459.98" x2="2012.0" y2="459.98" stroke="#000" stroke-width="2.1"/>
<line x1="2010.8" y1="454.98" x2="2010.8" y2="464.98" stroke="#000" stroke-width="3"/>
<line x1="2064.0" y1="475.32" x2="2118.4" y2="475.32" stroke="#000" stroke-width="2.1"/>
<line x1="2117.2" y1="470.32" x2="2117.2" y2="480.32" stroke="#000" stroke-width="3"/>
<line x1="2083.2" y1="490.68" x2="2103.2" y2="490.68" stroke="#000" stroke-width="2.1"/>
<line x1="2102.0" y1="485.68" x2="2102.0" y2="495.68" stroke="#000" stroke-width="3"/>
<text transform="translate(2068.6,423.8) scale(1.13,1)" font-size="24.5" letter-spacing="-0.4" fill="#111" stroke="#111" stroke-width="0.35">b</text>
<text transform="translate(2033.4,437.4) scale(1.13,1)" font-size="24.5" letter-spacing="-0.4" fill="#111" stroke="#111" stroke-width="0.35">ab</text>
<text transform="translate(2100.6,451.0) scale(1.13,1)" font-size="24.5" letter-spacing="-0.4" fill="#111" stroke="#111" stroke-width="0.35">ab</text>
<text transform="translate(2041.4,466.2) scale(1.13,1)" font-size="24.5" letter-spacing="-0.4" fill="#111" stroke="#111" stroke-width="0.35">ab</text>
<text transform="translate(2131.0,483.0) scale(1.13,1)" font-size="24.5" letter-spacing="-0.4" fill="#111" stroke="#111" stroke-width="0.35">a</text>
<text transform="translate(2123.0,499.0) scale(1.13,1)" font-size="24.5" letter-spacing="-0.4" fill="#111" stroke="#111" stroke-width="0.35">a</text>
<line x1="1548.5" y1="451.3" x2="1557.5" y2="451.3" stroke="#000" stroke-width="2.8"/>
<rect x="1557.5" y="540.35" width="216.00" height="16.65" fill="#000"/>
<rect x="1559.1" y="542.75" width="212.32" height="12.15" fill="#000084"/>
<rect x="1791.5" y="540.35" width="538.50" height="16.65" fill="#000"/>
<rect x="1793.1" y="542.75" width="534.82" height="12.15" fill="#000084"/>
<rect x="1557.5" y="556.00" width="216.00" height="16.35" fill="#000"/>
<rect x="1559.1" y="558.10" width="212.32" height="12.15" fill="#4C4CFF"/>
<rect x="1791.5" y="556.00" width="489.50" height="16.35" fill="#000"/>
<rect x="1793.1" y="558.10" width="485.82" height="12.15" fill="#4C4CFF"/>
<rect x="1557.5" y="571.35" width="216.00" height="16.35" fill="#000"/>
<rect x="1559.1" y="573.45" width="212.32" height="12.15" fill="#00CDCD"/>
<rect x="1791.5" y="571.35" width="462.30" height="16.35" fill="#000"/>
<rect x="1793.1" y="573.45" width="458.62" height="12.15" fill="#00CDCD"/>
<rect x="1557.5" y="586.70" width="216.00" height="16.35" fill="#000"/>
<rect x="1559.1" y="588.80" width="212.32" height="12.15" fill="#006400"/>
<rect x="1791.5" y="586.70" width="364.40" height="16.35" fill="#000"/>
<rect x="1793.1" y="588.80" width="360.72" height="12.15" fill="#006400"/>
<rect x="1557.5" y="602.05" width="216.00" height="16.35" fill="#000"/>
<rect x="1559.1" y="604.15" width="212.32" height="12.15" fill="#DC7008"/>
<rect x="1791.5" y="602.05" width="275.10" height="16.35" fill="#000"/>
<rect x="1793.1" y="604.15" width="271.42" height="12.15" fill="#DC7008"/>
<rect x="1557.5" y="617.40" width="216.00" height="16.65" fill="#000"/>
<rect x="1559.1" y="619.50" width="212.32" height="12.15" fill="#8C0000"/>
<rect x="1791.5" y="617.40" width="170.00" height="16.65" fill="#000"/>
<rect x="1793.1" y="619.50" width="166.32" height="12.15" fill="#8C0000"/>
<line x1="2330.0" y1="548.83" x2="2458.3" y2="548.83" stroke="#000" stroke-width="2.1"/>
<line x1="2457.1" y1="543.83" x2="2457.1" y2="553.83" stroke="#000" stroke-width="3"/>
<line x1="2281.0" y1="564.18" x2="2328.7" y2="564.18" stroke="#000" stroke-width="2.1"/>
<line x1="2327.5" y1="559.18" x2="2327.5" y2="569.18" stroke="#000" stroke-width="3"/>
<line x1="2253.8" y1="579.53" x2="2337.3" y2="579.53" stroke="#000" stroke-width="2.1"/>
<line x1="2336.1" y1="574.53" x2="2336.1" y2="584.53" stroke="#000" stroke-width="3"/>
<line x1="2155.9" y1="594.88" x2="2239.4" y2="594.88" stroke="#000" stroke-width="2.1"/>
<line x1="2238.2" y1="589.88" x2="2238.2" y2="599.88" stroke="#000" stroke-width="3"/>
<line x1="2066.6" y1="610.23" x2="2167.4" y2="610.23" stroke="#000" stroke-width="2.1"/>
<line x1="2166.2" y1="605.23" x2="2166.2" y2="615.23" stroke="#000" stroke-width="3"/>
<line x1="1961.5" y1="625.58" x2="2024.8" y2="625.58" stroke="#000" stroke-width="2.1"/>
<line x1="2023.6" y1="620.58" x2="2023.6" y2="630.58" stroke="#000" stroke-width="3"/>
<text transform="translate(2461.6,557.4) scale(1.13,1)" font-size="24.5" letter-spacing="-0.4" fill="#111" stroke="#111" stroke-width="0.35">a</text>
<text transform="translate(2339.0,571.8) scale(1.13,1)" font-size="24.5" letter-spacing="-0.4" fill="#111" stroke="#111" stroke-width="0.35">a</text>
<text transform="translate(2343.5,592.0) scale(1.13,1)" font-size="24.5" letter-spacing="-0.4" fill="#111" stroke="#111" stroke-width="0.35">ab</text>
<text transform="translate(2251.4,607.8) scale(1.13,1)" font-size="24.5" letter-spacing="-0.4" fill="#111" stroke="#111" stroke-width="0.35">b</text>
<text transform="translate(2179.3,625.0) scale(1.13,1)" font-size="24.5" letter-spacing="-0.4" fill="#111" stroke="#111" stroke-width="0.35">bc</text>
<text transform="translate(2036.8,638.0) scale(1.13,1)" font-size="24.5" letter-spacing="-0.4" fill="#111" stroke="#111" stroke-width="0.35">c</text>
<line x1="1548.5" y1="586.2" x2="1557.5" y2="586.2" stroke="#000" stroke-width="2.8"/>
<path d="M1772.5,49.6 L1557.5,49.6 L1557.5,722.8 L1772.5,722.8" stroke="#000" stroke-width="2.8" fill="none" stroke-linecap="butt" stroke-linejoin="round"/>
<path d="M1792.5,49.6 L2494.5,49.6 L2494.5,722.8 L1792.5,722.8" stroke="#000" stroke-width="2.8" fill="none" stroke-linecap="butt" stroke-linejoin="round"/>
<line x1="1767.5" y1="55.6" x2="1779.5" y2="43.6" stroke="#000" stroke-width="2.6" stroke-linecap="round"/>
<line x1="1785.5" y1="55.6" x2="1797.5" y2="43.6" stroke="#000" stroke-width="2.6" stroke-linecap="round"/>
<line x1="1767.5" y1="728.8" x2="1779.5" y2="716.8" stroke="#000" stroke-width="2.6" stroke-linecap="round"/>
<line x1="1785.5" y1="728.8" x2="1797.5" y2="716.8" stroke="#000" stroke-width="2.6" stroke-linecap="round"/>
<line x1="1557.5" y1="722.8" x2="1557.5" y2="731.8" stroke="#000" stroke-width="2.8"/>
<line x1="1629.6" y1="722.8" x2="1629.6" y2="731.8" stroke="#000" stroke-width="2.8"/>
<line x1="1700" y1="722.8" x2="1700" y2="731.8" stroke="#000" stroke-width="2.8"/>
<line x1="1891" y1="722.8" x2="1891" y2="731.8" stroke="#000" stroke-width="2.8"/>
<line x1="2035" y1="722.8" x2="2035" y2="731.8" stroke="#000" stroke-width="2.8"/>
<line x1="2177.6" y1="722.8" x2="2177.6" y2="731.8" stroke="#000" stroke-width="2.8"/>
<line x1="2321" y1="722.8" x2="2321" y2="731.8" stroke="#000" stroke-width="2.8"/>
<line x1="2461.6" y1="722.8" x2="2461.6" y2="731.8" stroke="#000" stroke-width="2.8"/>
<text x="1557.5" y="775.5" font-size="33" text-anchor="middle" fill="#000">0.0</text>
<text x="1629.6" y="775.5" font-size="33" text-anchor="middle" fill="#000">0.1</text>
<text x="1700" y="775.5" font-size="33" text-anchor="middle" fill="#000">0.2</text>
<text x="1773" y="775.5" font-size="33" text-anchor="middle" fill="#000">0.3</text>
<text x="1891" y="775.5" font-size="33" text-anchor="middle" fill="#000">10.0</text>
<text x="2035" y="775.5" font-size="33" text-anchor="middle" fill="#000">20.0</text>
<text x="2177.6" y="775.5" font-size="33" text-anchor="middle" fill="#000">30.0</text>
<text x="2321" y="775.5" font-size="33" text-anchor="middle" fill="#000">40.0</text>
<text x="2461.6" y="775.5" font-size="33" text-anchor="middle" fill="#000">50.0</text>
<text x="1888" y="818" font-size="31" font-weight="bold" letter-spacing="0.48" fill="#000">Relative abundance (%)</text>
<text x="1535.5" y="194.5" font-size="32" font-weight="bold" font-style="italic" text-anchor="end" fill="#000">Spizellomycetales</text>
<text x="1535.5" y="325.7" font-size="32" font-weight="bold" font-style="italic" text-anchor="end" fill="#000">Olpidiales</text>
<text x="1535.5" y="461.0" font-size="32" font-weight="bold" font-style="italic" text-anchor="end" fill="#000">Hypocreales</text>
<text x="1535.5" y="594.5" font-size="32" font-weight="bold" font-style="italic" text-anchor="end" fill="#000">Sordariales</text>
<rect x="2346.2" y="69.2" width="58.6" height="17.6" fill="#8C0000" stroke="#000" stroke-width="3.4" rx="1"/>
<text x="2418" y="86.0" font-size="26" letter-spacing="0.8" fill="#000">P0</text>
<rect x="2346.2" y="102.3" width="58.6" height="17.6" fill="#DC7008" stroke="#000" stroke-width="3.4" rx="1"/>
<text x="2418" y="119.1" font-size="26" letter-spacing="0.8" fill="#000">P12.5</text>
<rect x="2346.2" y="135.4" width="58.6" height="17.6" fill="#006400" stroke="#000" stroke-width="3.4" rx="1"/>
<text x="2418" y="152.2" font-size="26" letter-spacing="0.8" fill="#000">P25</text>
<rect x="2346.2" y="168.5" width="58.6" height="17.6" fill="#00CDCD" stroke="#000" stroke-width="3.4" rx="1"/>
<text x="2418" y="185.3" font-size="26" letter-spacing="0.8" fill="#000">P50</text>
<rect x="2346.2" y="201.6" width="58.6" height="17.6" fill="#4C4CFF" stroke="#000" stroke-width="3.4" rx="1"/>
<text x="2418" y="218.4" font-size="26" letter-spacing="0.8" fill="#000">P100</text>
<rect x="2346.2" y="234.7" width="58.6" height="17.6" fill="#000084" stroke="#000" stroke-width="3.4" rx="1"/>
<text x="2418" y="251.5" font-size="26" letter-spacing="0.8" fill="#000">P200</text>
</svg></body></html>
